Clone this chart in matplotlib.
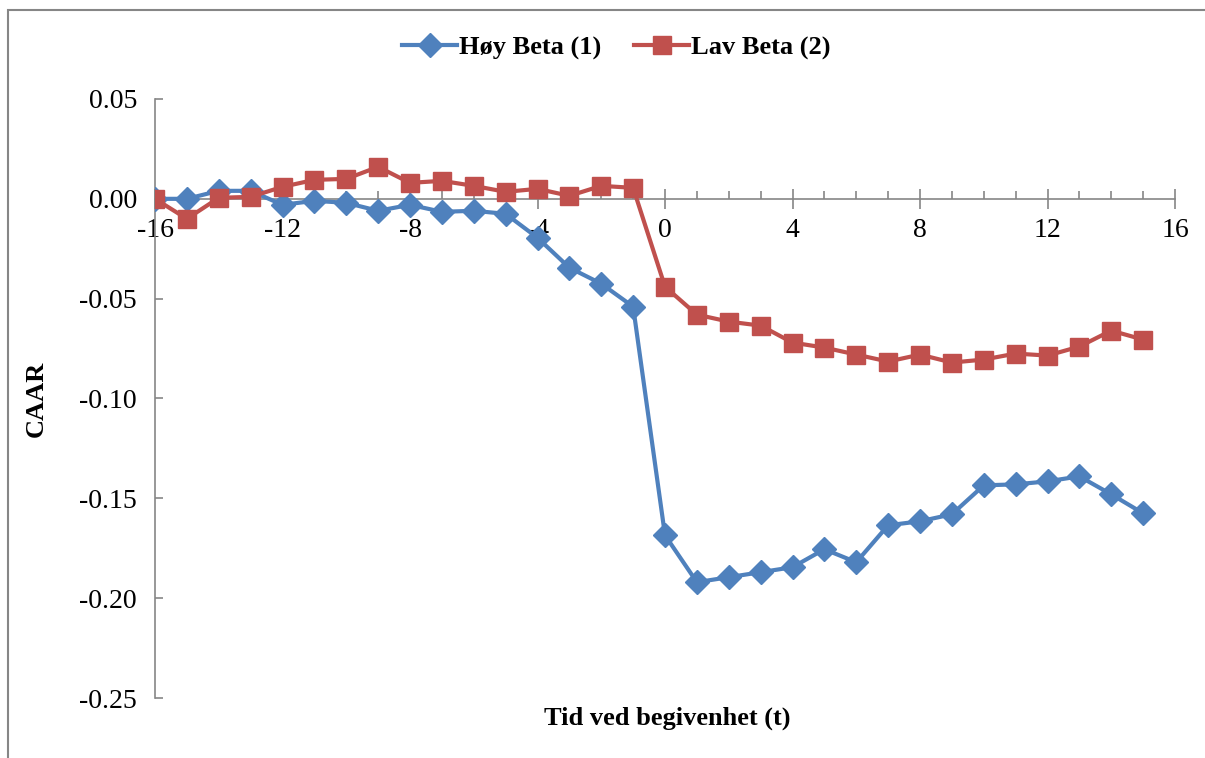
import numpy as np
import matplotlib.pyplot as plt
from matplotlib.patches import Rectangle
from matplotlib.ticker import MultipleLocator, FormatStrFormatter

# event time
t = list(range(-16, 16))

# CAAR, high beta portfolio (1)
hoy_beta = [0.000, 0.000, 0.004, 0.004, -0.003, -0.001, -0.002, -0.006,
            -0.003, -0.0065, -0.006, -0.0075, -0.0195, -0.0345, -0.0425, -0.054,
            -0.1685, -0.192, -0.1895, -0.187, -0.1845, -0.1755, -0.182, -0.1635,
            -0.1615, -0.158, -0.1435, -0.143, -0.1415, -0.139, -0.148, -0.1575]

# CAAR, low beta portfolio (2)
lav_beta = [0.000, -0.010, 0.0005, 0.001, 0.006, 0.0095, 0.010, 0.016,
            0.008, 0.009, 0.0065, 0.0035, 0.005, 0.0015, 0.0065, 0.0055,
            -0.044, -0.058, -0.0615, -0.0635, -0.072, -0.0745, -0.078, -0.0815,
            -0.078, -0.082, -0.0805, -0.0775, -0.0785, -0.074, -0.066, -0.0705]

series_labels = ['Høy Beta (1)', 'Lav Beta (2)']

plt.rcParams['font.family'] = ['Liberation Serif', 'DejaVu Serif']
plt.rcParams['axes.unicode_minus'] = False

fig = plt.figure(figsize=(12.05, 7.58), dpi=100)
ax = fig.add_axes([155 / 1205, 1 - 698 / 758, 1020 / 1205, 599 / 758])

# outer chart frame (Excel style)
fig.patches.append(Rectangle((8 / 1205, -0.05), 1.2, 1 - 10 / 758 + 0.05,
                             transform=fig.transFigure, fill=False,
                             edgecolor='#868686', linewidth=1.5))

blue = '#4F81BD'
red = '#C0504D'
ax.plot(t, hoy_beta, color=blue, linewidth=3, marker='D', markersize=12,
        label=series_labels[0], zorder=3)
ax.plot(t, lav_beta, color=red, linewidth=3, marker='s', markersize=13.5,
        label=series_labels[1], zorder=4)

ax.set_xlim(-16, 16)
ax.set_ylim(-0.25, 0.05)

for side in ['top', 'right']:
    ax.spines[side].set_visible(False)
ax.spines['bottom'].set_position(('data', 0))
ax.spines['bottom'].set_color('#868686')
ax.spines['left'].set_color('#868686')
ax.spines['bottom'].set_linewidth(1.2)
ax.spines['left'].set_linewidth(1.2)
ax.spines['bottom'].set_zorder(1)

ax.xaxis.set_major_locator(MultipleLocator(4))
ax.xaxis.set_minor_locator(MultipleLocator(1))
ax.yaxis.set_major_locator(MultipleLocator(0.05))
ax.yaxis.set_major_formatter(FormatStrFormatter('%.2f'))

ax.tick_params(axis='x', which='major', direction='inout', length=14,
               width=1.2, color='#868686', labelsize=20, pad=7)
ax.tick_params(axis='x', which='minor', direction='in', length=6,
               width=1.2, color='#868686')
ax.tick_params(axis='y', which='major', direction='in', length=6,
               width=1.2, color='#868686', labelsize=20, pad=13)

ax.set_ylabel('CAAR', fontsize=19, fontweight='bold')
ax.yaxis.set_label_coords(-0.105, 0.5)
fig.text(667 / 1205, 1 - 718 / 758, 'Tid ved begivenhet (t)', ha='center',
         va='center', fontsize=19, fontweight='bold')

fig.legend(loc='center', bbox_to_anchor=(616 / 1205, 1 - 48 / 758), ncol=2,
           frameon=False, prop={'size': 19, 'weight': 'bold'},
           handlelength=2.1, columnspacing=1.25, handletextpad=0.05)

fig.savefig('out.png', dpi=100)
